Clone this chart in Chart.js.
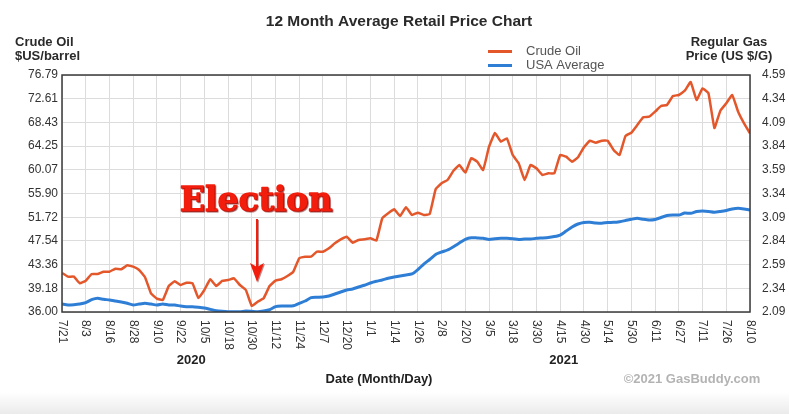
<!DOCTYPE html>
<html lang="en">
<head>
    <meta charset="UTF-8">
    <title>12 Month Average Retail Price Chart</title>
    <script src="https://cdn.jsdelivr.net/npm/chart.js"></script>
    <style>
        html, body { margin: 0; padding: 0; background: #fff; overflow: hidden; }
        canvas { display: block; }
    </style>
</head>
<body>
    <canvas id="priceChart" width="789" height="414"></canvas>

    <script>
        // tick labels along the date axis (one every POINTS_PER_TICK samples)
        const TICK_LABELS = ['7/21', '8/3', '8/16', '8/28', '9/10', '9/22', '10/5', '10/18', '10/30', '11/12',
            '11/24', '12/7', '12/20', '1/1', '1/14', '1/26', '2/8', '2/20', '3/5', '3/18',
            '3/30', '4/15', '4/30', '5/14', '5/30', '6/11', '6/27', '7/11', '7/26', '8/10'];
        const POINTS_PER_TICK = 4;
        const YEAR_LABELS = ['2020', '2021'];

        const LEFT_LABELS = ['36.00', '39.18', '43.36', '47.54', '51.72', '55.90', '60.07', '64.25', '68.43', '72.61', '76.79'];
        const RIGHT_LABELS = ['2.09', '2.34', '2.59', '2.84', '3.09', '3.34', '3.59', '3.84', '4.09', '4.34', '4.59'];
        const CRUDE_RANGE = [34.99, 76.79];
        const GAS_RANGE = [2.09, 4.59];

        // crude oil, $US/barrel
        const CRUDE = [41.87, 41.22, 41.22, 40.05, 40.51, 41.69, 41.69, 42.10, 42.10, 42.63,
            42.52, 43.23, 42.98, 42.40, 41.11, 38.29, 37.34, 37.11, 39.58, 40.40,
            39.75, 40.16, 40.05, 37.46, 38.87, 40.76, 39.58, 40.46, 40.63, 40.93,
            39.75, 38.87, 36.05, 36.81, 37.41, 39.58, 40.51, 40.76, 41.34, 42.10,
            44.46, 44.74, 44.74, 45.63, 45.63, 46.22, 47.11, 47.81, 48.27, 47.21,
            47.69, 47.81, 47.99, 47.57, 51.52, 52.40, 53.10, 51.92, 53.46, 52.10,
            52.50, 52.10, 52.27, 56.63, 57.69, 58.27, 59.91, 60.92, 59.56, 62.10,
            61.50, 60.03, 64.14, 66.56, 65.03, 65.63, 62.68, 61.22, 58.27, 60.92,
            60.33, 59.15, 59.45, 59.45, 62.68, 62.38, 61.50, 62.27, 64.04, 65.20,
            64.85, 65.20, 65.20, 63.56, 62.68, 66.03, 66.61, 67.97, 69.33, 69.44,
            70.32, 71.32, 71.50, 73.09, 73.26, 74.02, 75.56, 72.38, 74.44, 73.56,
            67.44, 70.49, 71.80, 73.26, 70.32, 68.27, 66.51];

        // USA average regular gas, US $/gallon
        const GAS = [2.174, 2.164, 2.167, 2.174, 2.188, 2.220, 2.235, 2.224, 2.217, 2.206,
            2.195, 2.182, 2.164, 2.174, 2.182, 2.174, 2.164, 2.174, 2.164, 2.164,
            2.153, 2.146, 2.146, 2.140, 2.132, 2.118, 2.104, 2.097, 2.093, 2.093,
            2.093, 2.101, 2.097, 2.093, 2.101, 2.114, 2.146, 2.153, 2.153, 2.156,
            2.182, 2.206, 2.241, 2.245, 2.248, 2.259, 2.280, 2.301, 2.322, 2.333,
            2.354, 2.372, 2.396, 2.414, 2.428, 2.446, 2.459, 2.470, 2.480, 2.491,
            2.538, 2.596, 2.644, 2.697, 2.723, 2.744, 2.779, 2.818, 2.857, 2.874,
            2.871, 2.867, 2.855, 2.863, 2.867, 2.867, 2.863, 2.855, 2.860, 2.860,
            2.867, 2.871, 2.876, 2.886, 2.902, 2.944, 2.987, 3.018, 3.034, 3.036,
            3.029, 3.026, 3.034, 3.036, 3.043, 3.055, 3.068, 3.078, 3.068, 3.061,
            3.066, 3.087, 3.108, 3.113, 3.113, 3.134, 3.131, 3.150, 3.155, 3.150,
            3.142, 3.150, 3.161, 3.177, 3.184, 3.177, 3.166];

        const CRUDE_COLOR = '#e3572b';
        const GAS_COLOR = '#2f7ed6';
        const FONT = '"Liberation Sans", Arial, sans-serif';

        function evenTicks(range, n) {
            return Array.from({ length: n }, (_, i) => ({ value: range[0] + (range[1] - range[0]) * i / (n - 1) }));
        }

        // everything around the plot: frame, rotated dates, titles, legend, annotation
        const decor = {
            id: 'decor',
            beforeDraw(chart) {
                const c = chart.ctx;
                c.save();
                c.fillStyle = '#fff';
                c.fillRect(0, 0, chart.width, chart.height);
                const g = c.createLinearGradient(0, 392, 0, 414);
                g.addColorStop(0, '#ffffff');
                g.addColorStop(1, '#ebebeb');
                c.fillStyle = g;
                c.fillRect(0, 392, chart.width, 22);
                c.restore();
            },
            afterDraw(chart) {
                const c = chart.ctx;
                const a = chart.chartArea;
                const xs = chart.scales.x;
                c.save();

                c.strokeStyle = '#3a3a3a';
                c.lineWidth = 1.5;
                c.strokeRect(a.left, a.top, a.right - a.left, a.bottom - a.top);

                // dates, reading top to bottom
                c.fillStyle = '#333';
                c.font = '12px ' + FONT;
                c.textAlign = 'left';
                c.textBaseline = 'middle';
                TICK_LABELS.forEach((t, i) => {
                    c.save();
                    c.translate(xs.getPixelForValue(i * POINTS_PER_TICK), a.bottom + 8);
                    c.rotate(Math.PI / 2);
                    c.fillText(t, 0, 0);
                    c.restore();
                });

                c.textBaseline = 'alphabetic';
                c.textAlign = 'center';
                c.font = 'bold 13px ' + FONT;
                c.fillStyle = '#222';
                c.fillText(YEAR_LABELS[0], xs.getPixelForValue(21.8), 364);
                c.fillText(YEAR_LABELS[1], xs.getPixelForValue(84.6), 364);
                c.fillText('Date (Month/Day)', 379, 383);
                c.fillStyle = '#b3b3b3';
                c.fillText('\u00a92021 GasBuddy.com', 692, 383);

                c.fillStyle = '#2a2a2a';
                c.font = 'bold 15.5px ' + FONT;
                c.fillText('12 Month Average Retail Price Chart', 399, 26);

                c.font = 'bold 13px ' + FONT;
                c.textAlign = 'left';
                c.fillText('Crude Oil', 15, 46);
                c.fillText('$US/barrel', 15, 60);
                c.textAlign = 'center';
                c.fillText('Regular Gas', 729, 46);
                c.fillText('Price (US $/G)', 729, 60);

                // legend
                c.lineWidth = 3;
                [[CRUDE_COLOR, 'Crude Oil', 51.5], [GAS_COLOR, 'USA Average', 65.5]].forEach(([col, txt, y]) => {
                    c.strokeStyle = col;
                    c.beginPath();
                    c.moveTo(488, y);
                    c.lineTo(512, y);
                    c.stroke();
                    c.fillStyle = '#555';
                    c.font = '13px ' + FONT;
                    c.textAlign = 'left';
                    c.fillText(txt, 526, y + 3);
                });

                // election callout
                c.fillStyle = '#f21d0c';
                c.strokeStyle = '#f21d0c';
                c.shadowColor = 'rgba(110,0,0,0.45)';
                c.shadowOffsetX = 1;
                c.shadowOffsetY = 1;
                c.font = 'bold 33px "DejaVu Serif", serif';
                c.textAlign = 'left';
                c.lineWidth = 1.6;
                c.lineJoin = 'round';
                c.strokeText('Election', 180, 211);
                c.fillText('Election', 180, 211);
                c.lineWidth = 2;
                c.beginPath();
                c.moveTo(257, 219);
                c.lineTo(257, 268);
                c.stroke();
                c.beginPath();
                c.moveTo(250, 263);
                c.lineTo(257, 267);
                c.lineTo(264, 263);
                c.lineTo(257, 282);
                c.closePath();
                c.fill();
                c.restore();
            }
        };

        const ctx = document.getElementById('priceChart').getContext('2d');
        new Chart(ctx, {
            type: 'line',
            data: {
                datasets: [
                    {
                        label: 'Crude Oil',
                        data: CRUDE.map((v, i) => ({ x: i, y: v })),
                        yAxisID: 'yCrude',
                        borderColor: CRUDE_COLOR,
                        borderWidth: 2.5,
                        pointRadius: 0,
                        tension: 0.1
                    },
                    {
                        label: 'USA Average',
                        data: GAS.map((v, i) => ({ x: i, y: v })),
                        yAxisID: 'yGas',
                        borderColor: GAS_COLOR,
                        borderWidth: 3,
                        pointRadius: 0,
                        tension: 0.2
                    }
                ]
            },
            options: {
                responsive: false,
                animation: false,
                layout: { padding: { top: 75, left: 0, right: 0, bottom: 0 } },
                plugins: { legend: { display: false }, tooltip: { enabled: false } },
                scales: {
                    x: {
                        type: 'linear',
                        min: 0,
                        max: (TICK_LABELS.length - 1) * POINTS_PER_TICK,
                        afterBuildTicks: axis => { axis.ticks = TICK_LABELS.map((_, i) => ({ value: i * POINTS_PER_TICK })); },
                        afterFit: axis => { axis.height = 102; },
                        ticks: { display: false },
                        grid: { color: '#dcdcdc', lineWidth: 1, drawTicks: false },
                        border: { display: false }
                    },
                    yCrude: {
                        position: 'left',
                        min: CRUDE_RANGE[0],
                        max: CRUDE_RANGE[1],
                        afterBuildTicks: axis => { axis.ticks = evenTicks(CRUDE_RANGE, LEFT_LABELS.length); },
                        afterFit: axis => { axis.width = 62; },
                        ticks: {
                            callback: (v, i) => LEFT_LABELS[i],
                            color: '#333',
                            padding: 4,
                            font: { family: FONT, size: 12 }
                        },
                        grid: { color: '#dcdcdc', lineWidth: 1, drawTicks: false },
                        border: { display: false }
                    },
                    yGas: {
                        position: 'right',
                        min: GAS_RANGE[0],
                        max: GAS_RANGE[1],
                        afterBuildTicks: axis => { axis.ticks = evenTicks(GAS_RANGE, RIGHT_LABELS.length); },
                        afterFit: axis => { axis.width = 39; },
                        ticks: {
                            callback: (v, i) => RIGHT_LABELS[i],
                            color: '#333',
                            padding: 4,
                            font: { family: FONT, size: 12 }
                        },
                        grid: { display: false },
                        border: { display: false }
                    }
                }
            },
            plugins: [decor]
        });
    </script>
</body>
</html>
